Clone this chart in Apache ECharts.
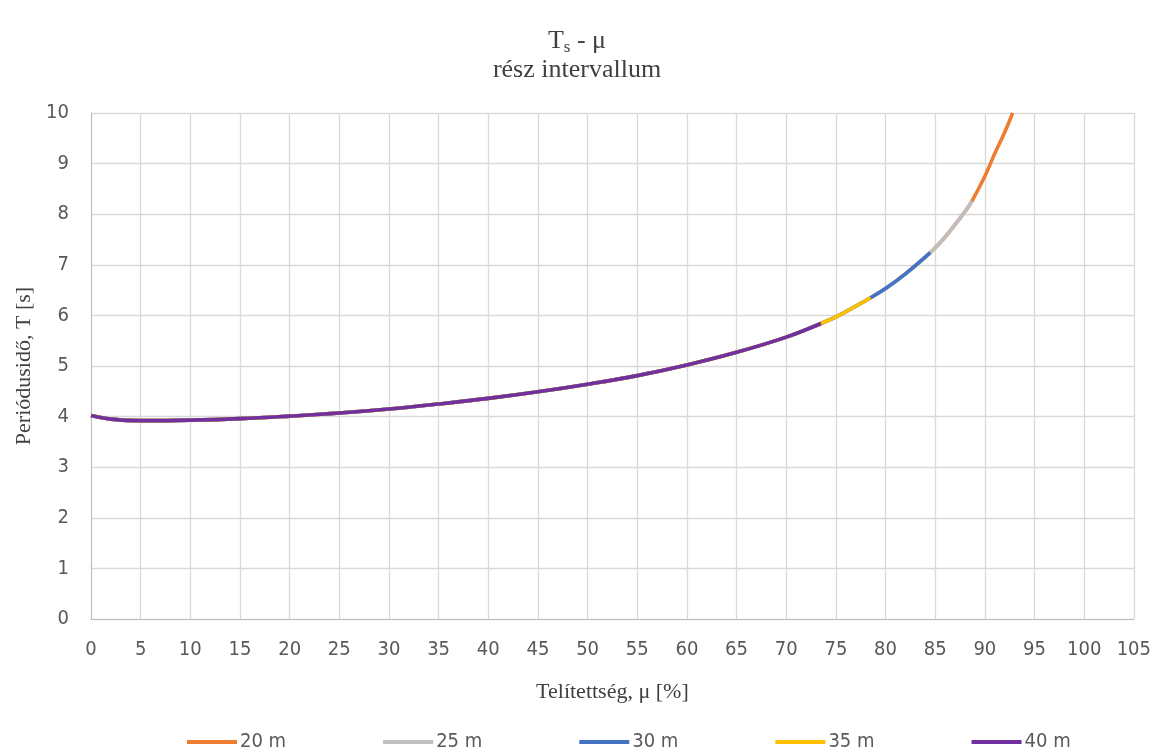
<!DOCTYPE html>
<html>
<head>
<meta charset="utf-8">
<script src="https://cdn.jsdelivr.net/npm/echarts@6/dist/echarts.min.js"></script>
<style>html,body{margin:0;padding:0;background:#fff}#c{width:1154px;height:749px}</style>
</head>
<body>
<div id="c"></div>
<script>
const seriesNames = ['20 m', '25 m', '30 m', '35 m', '40 m'];
const seriesColors = ['#ed7d31', '#bfbfbf', '#4472c4', '#ffc000', '#7030a0'];
const xTicks = [0,5,10,15,20,25,30,35,40,45,50,55,60,65,70,75,80,85,90,95,100,105];
const yTicks = [0,1,2,3,4,5,6,7,8,9,10];

// curve samples [mu %, T s]
const mu20 = [0,2,5,10,15,20,25,30,35,40,45,50,55,60,65,70,73.5,75,78.5,80,82,84.5,86,88,88.7,90,91,92,92.8];
const T20  = [4.02,3.95,3.92,3.93,3.96,4.01,4.07,4.15,4.25,4.36,4.49,4.64,4.81,5.02,5.27,5.57,5.84,5.97,6.35,6.53,6.82,7.24,7.55,8.05,8.26,8.75,9.2,9.62,10.0];
const mu25 = [0,2,5,10,15,20,25,30,35,40,45,50,55,60,65,70,73.5,75,78.5,80,82,84.5,86,88,88.7];
const T25  = [4.02,3.95,3.92,3.93,3.96,4.01,4.07,4.15,4.25,4.36,4.49,4.64,4.81,5.02,5.27,5.57,5.84,5.97,6.35,6.53,6.82,7.24,7.55,8.05,8.26];
const mu30 = [0,2,5,10,15,20,25,30,35,40,45,50,55,60,65,70,73.5,75,78.5,80,82,84.5];
const T30  = [4.02,3.95,3.92,3.93,3.96,4.01,4.07,4.15,4.25,4.36,4.49,4.64,4.81,5.02,5.27,5.57,5.84,5.97,6.35,6.53,6.82,7.24];
const mu35 = [0,2,5,10,15,20,25,30,35,40,45,50,55,60,65,70,73.5,75,78.5];
const T35  = [4.02,3.95,3.92,3.93,3.96,4.01,4.07,4.15,4.25,4.36,4.49,4.64,4.81,5.02,5.27,5.57,5.84,5.97,6.35];
const mu40 = [0,2,5,10,15,20,25,30,35,40,45,50,55,60,65,70,73.5];
const T40  = [4.02,3.95,3.92,3.93,3.96,4.01,4.07,4.15,4.25,4.36,4.49,4.64,4.81,5.02,5.27,5.57,5.84];

const allMu = [mu20, mu25, mu30, mu35, mu40];
const allT = [T20, T25, T30, T35, T40];

const serif = '"Liberation Serif", "DejaVu Serif", serif';
const narrow = '"DejaVu Sans Condensed", "Liberation Sans Narrow", "Liberation Sans", sans-serif';

const chart = echarts.init(document.getElementById('c'));
chart.setOption({
  animation: false,
  title: {
    text: '{t|T}{s|s}{t| - μ}\n{t|rész intervallum}',
    left: 'center',
    top: 22,
    textStyle: {
      fontWeight: 'normal',
      rich: {
        t: { fontFamily: serif, fontSize: 26, fontWeight: 'normal', color: '#404040', lineHeight: 29 },
        s: { fontFamily: serif, fontSize: 17, fontWeight: 'normal', color: '#404040', verticalAlign: 'bottom', padding: [12, 0, 0, 0], lineHeight: 29 }
      }
    }
  },
  grid: { left: 91, right: 19, top: 113, bottom: 130, containLabel: false },
  xAxis: {
    type: 'value', min: 0, max: 105, interval: 5,
    name: 'Telítettség, μ [%]', nameLocation: 'middle', nameGap: 62,
    nameTextStyle: { fontFamily: serif, fontSize: 22, color: '#404040' },
    axisLine: { show: true, lineStyle: { color: '#bfbfbf' } },
    axisTick: { show: false },
    axisLabel: { fontFamily: narrow, fontSize: 20, color: '#595959', margin: 21 },
    splitLine: { show: true, lineStyle: { color: '#d9d9d9', width: 1.3 } }
  },
  yAxis: {
    type: 'value', min: 0, max: 10, interval: 1,
    name: 'Periódusidő, T [s]', nameLocation: 'middle', nameGap: 56, nameRotate: 90,
    nameTextStyle: { fontFamily: serif, fontSize: 22, color: '#404040' },
    axisLine: { show: true, lineStyle: { color: '#bfbfbf' } },
    axisTick: { show: false },
    axisLabel: { fontFamily: narrow, fontSize: 20, color: '#595959', margin: 22 },
    splitLine: { show: true, lineStyle: { color: '#d9d9d9', width: 1.3 } }
  },
  legend: {
    top: 727, left: 182,
    itemWidth: 50, itemHeight: 4, itemGap: 97,
    icon: 'rect',
    textStyle: { fontFamily: narrow, fontSize: 20, color: '#595959', padding: [0, 0, 0, -2] },
    data: seriesNames
  },
  series: seriesNames.map((n, i) => ({
    name: n, type: 'line', smooth: 0.4, showSymbol: false, symbol: 'none',
    clip: true,
    lineStyle: { color: seriesColors[i], width: 3.6 },
    itemStyle: { color: seriesColors[i] },
    data: allMu[i].map((m, k) => [m, allT[i][k]])
  }))
});
</script>
</body>
</html>
